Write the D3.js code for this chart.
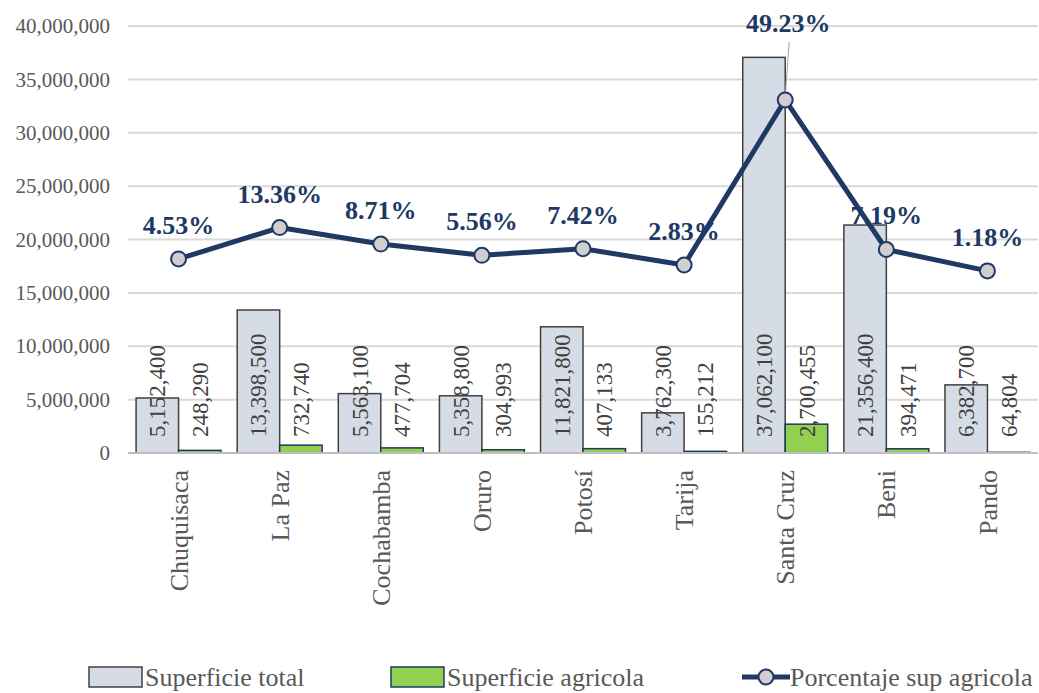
<!DOCTYPE html>
<html>
<head>
<meta charset="utf-8">
<script src="https://cdn.jsdelivr.net/npm/d3@7"></script>
<style>
  body { margin: 0; background: #fff; }
  svg text { font-family: 'Liberation Serif', 'DejaVu Serif', serif; }
</style>
</head>
<body>
<div id="chart"></div>
<script>
// departments and series
const departamentos = ['Chuquisaca', 'La Paz', 'Cochabamba', 'Oruro', 'Potosí', 'Tarija', 'Santa Cruz', 'Beni', 'Pando']
const superficieTotal = [5152400, 13398500, 5563100, 5358800, 11821800, 3762300, 37062100, 21356400, 6382700]
const superficieAgricola = [248290, 732740, 477704, 304993, 407133, 155212, 2700455, 394471, 64804]
const porcentaje = [4.53, 13.36, 8.71, 5.56, 7.42, 2.83, 49.23, 7.19, 1.18]
const yTicks = [0, 5000000, 10000000, 15000000, 20000000, 25000000, 30000000, 35000000, 40000000]
const seriesNames = ['Superficie total', 'Superficie agricola', 'Porcentaje sup agricola']

const width = 1039
const height = 693
const margin = { top: 26, right: 0, bottom: 240, left: 128 }
const serif = "'Liberation Serif', 'DejaVu Serif', serif"

const svg = d3.select('#chart')
  .append('svg')
  .attr('width', width)
  .attr('height', height)
  .attr('font-family', serif)

const x = d3.scaleBand()
  .domain(departamentos)
  .range([margin.left, width - 1])
  .paddingInner(0.16)
  .paddingOuter(0.08)

const xSub = d3.scaleBand()
  .domain([0, 1])
  .range([0, x.bandwidth()])

const y = d3.scaleLinear()
  .domain([0, 40000000])
  .range([height - margin.bottom, margin.top])

// secondary axis (hidden) for the percentage line
const y2 = d3.scaleLinear()
  .domain([-50, 70])
  .range([height - margin.bottom, margin.top])

const fmt = d3.format(',')

// gridlines
svg.append('g')
  .selectAll('line')
  .data(yTicks.slice(1))
  .join('line')
  .attr('x1', margin.left)
  .attr('x2', width - 1)
  .attr('y1', d => y(d))
  .attr('y2', d => y(d))
  .attr('stroke', '#d9d9d9')
  .attr('stroke-width', 2)

// y axis labels
const yAxis = svg.append('g')
  .attr('transform', `translate(${margin.left - 18},0)`)
  .call(d3.axisLeft(y).tickValues(yTicks).tickFormat(fmt).tickSize(0).tickPadding(0))
  .attr('font-family', serif)
  .attr('font-size', 21)
yAxis.select('.domain').remove()
yAxis.selectAll('text')
  .attr('fill', '#595959')

// bars
const groups = svg.append('g')
  .selectAll('g')
  .data(departamentos)
  .join('g')
  .attr('transform', d => `translate(${x(d)},0)`)

groups.append('rect')
  .attr('x', xSub(0))
  .attr('width', xSub.bandwidth())
  .attr('y', (d, i) => y(superficieTotal[i]))
  .attr('height', (d, i) => y(0) - y(superficieTotal[i]))
  .attr('fill', '#d6dce5')
  .attr('stroke', '#404040')
  .attr('stroke-width', 1.5)

groups.append('rect')
  .attr('x', xSub(1))
  .attr('width', xSub.bandwidth())
  .attr('y', (d, i) => y(superficieAgricola[i]))
  .attr('height', (d, i) => Math.max(0, y(0) - y(superficieAgricola[i])))
  .attr('fill', '#92d050')
  .attr('stroke', '#1f3864')
  .attr('stroke-width', 1.5)

// baseline
svg.append('line')
  .attr('x1', margin.left)
  .attr('x2', width - 1)
  .attr('y1', y(0))
  .attr('y2', y(0))
  .attr('stroke', '#bfbfbf')
  .attr('stroke-width', 2)

// bar value labels, inside base
const barLabel = function(sel, values, k) {
  sel.append('text')
    .attr('transform', (d, i) => `translate(${xSub(k) + xSub.bandwidth() / 2}, ${y(0) - 16}) rotate(-90)`)
    .attr('dy', '0.35em')
    .attr('text-anchor', 'start')
    .attr('font-size', 23)
    .attr('fill', '#404040')
    .text((d, i) => fmt(values[i]))
}
barLabel(groups, superficieTotal, 0)
barLabel(groups, superficieAgricola, 1)

// category labels
svg.append('g')
  .selectAll('text')
  .data(departamentos)
  .join('text')
  .attr('transform', d => `translate(${x(d) + x.bandwidth() / 2}, ${y(0) + 17}) rotate(-90)`)
  .attr('dy', '0.35em')
  .attr('text-anchor', 'end')
  .attr('font-size', 26)
  .attr('fill', '#595959')
  .text(d => d)

// percentage line
const cx = d => x(d) + x.bandwidth() / 2
const line = d3.line()
  .x((d, i) => cx(departamentos[i]))
  .y(d => y2(d))

svg.append('path')
  .datum(porcentaje)
  .attr('d', line)
  .attr('fill', 'none')
  .attr('stroke', '#203864')
  .attr('stroke-width', 5)
  .attr('stroke-linejoin', 'round')

const maxIdx = porcentaje.indexOf(d3.max(porcentaje))

// leader line for the top label
svg.append('line')
  .attr('x1', cx(departamentos[maxIdx]) + 4)
  .attr('y1', 42)
  .attr('x2', cx(departamentos[maxIdx]))
  .attr('y2', y2(porcentaje[maxIdx]) - 3)
  .attr('stroke', '#a6a6a6')
  .attr('stroke-width', 1)

svg.append('g')
  .selectAll('circle')
  .data(porcentaje)
  .join('circle')
  .attr('cx', (d, i) => cx(departamentos[i]))
  .attr('cy', d => y2(d))
  .attr('r', 7.5)
  .attr('fill', '#d0cece')
  .attr('stroke', '#203864')
  .attr('stroke-width', 2)

svg.append('g')
  .selectAll('text')
  .data(porcentaje)
  .join('text')
  .attr('x', (d, i) => cx(departamentos[i]) + (i === maxIdx ? 3 : 0))
  .attr('y', (d, i) => i === maxIdx ? 32 : y2(d) - 25)
  .attr('text-anchor', 'middle')
  .attr('font-size', 26)
  .attr('font-weight', 'bold')
  .attr('fill', '#203864')
  .text(d => d.toFixed(2) + '%')

// legend
const legend = svg.append('g').attr('font-size', 26).attr('fill', '#595959')
const ly = 677
legend.append('rect').attr('x', 89).attr('y', ly - 10).attr('width', 53).attr('height', 20)
  .attr('fill', '#d6dce5').attr('stroke', '#404040').attr('stroke-width', 1.5)
legend.append('text').attr('x', 145).attr('y', ly).attr('dy', '0.35em').text(seriesNames[0])
legend.append('rect').attr('x', 391).attr('y', ly - 10).attr('width', 53).attr('height', 20)
  .attr('fill', '#92d050').attr('stroke', '#1f3864').attr('stroke-width', 1.5)
legend.append('text').attr('x', 447).attr('y', ly).attr('dy', '0.35em').text(seriesNames[1])
legend.append('line').attr('x1', 742).attr('x2', 790).attr('y1', ly).attr('y2', ly)
  .attr('stroke', '#203864').attr('stroke-width', 5)
legend.append('circle').attr('cx', 766).attr('cy', ly).attr('r', 7.5)
  .attr('fill', '#d0cece').attr('stroke', '#203864').attr('stroke-width', 2)
legend.append('text').attr('x', 790).attr('y', ly).attr('dy', '0.35em').text(seriesNames[2])
</script>
</body>
</html>
